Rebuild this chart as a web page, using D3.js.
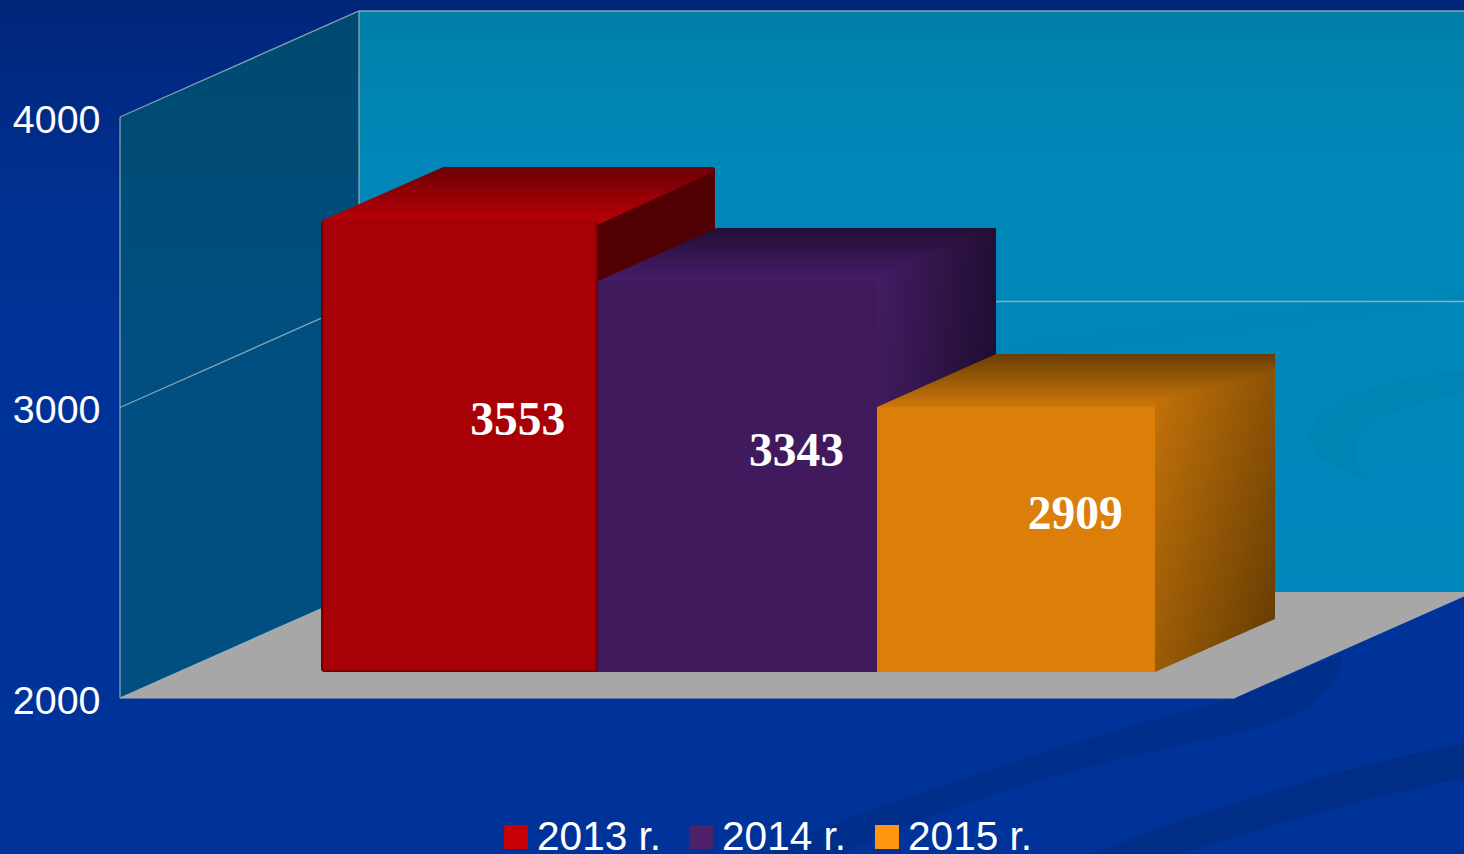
<!DOCTYPE html>
<html><head><meta charset="utf-8">
<script src="https://cdn.jsdelivr.net/npm/d3@7"></script>
<style>html,body{margin:0;padding:0;background:#003399;overflow:hidden}svg{display:block}</style>
</head><body><svg id="c" width="1464" height="854"></svg>
<script>
const categories = ["2013 r.", "2014 r.", "2015 r."];
const values = [3553, 3343, 2909];
const yTicks = [2000, 3000, 4000];
const frontColors = ["#a70006", "#411a5e", "#db7e0a"];
const topFrom = ["#700004", "#220f36", "#693e04"];
const topTo = ["#bb0008", "#451d66", "#cc770a"];
const sideFrom = ["#5a0004", "#441d64", "#c8750a"];
const sideTo = ["#500003", "#1f0d30", "#6a3f03"];
const sideTilt = [0, 0.3, 0.8];
const legendColors = ["#c80008", "#4e2068", "#ff9810"];

const W = 1464, H = 854, depthX = 239, depthY = 106;
const svg = d3.select("#c");
const defs = svg.append("defs");
const y = d3.scaleLinear().domain([2000, 4000]).range([698, 117]);
const x = d3.scaleBand().domain(categories).range([120, 1235]).paddingInner(0).paddingOuter(0.5);
const P = (px, py, z) => [px + depthX * z, py - depthY * z];
const line = d3.line();

function grad(id, x1, y1, x2, y2, stops) {
  const g = defs.append("linearGradient").attr("id", id)
    .attr("x1", x1).attr("y1", y1).attr("x2", x2).attr("y2", y2);
  stops.forEach(s => g.append("stop").attr("offset", s[0]).attr("stop-color", s[1]));
  return g;
}
grad("bg", 0, 0, 0, 1, [[0, "#00267a"], [0.25, "#003192"], [0.4, "#003399"], [1, "#003399"]]);
grad("back", 0, 0, 0, 1, [[0, "#0080a8"], [0.25, "#0087b8"], [1, "#0088bc"]]);
grad("sidewall", 0, 0, 0, 1, [[0, "#004a70"], [0.5, "#004f80"], [1, "#004f80"]]);
defs.append("filter").attr("id", "soft").attr("x", "-5%").attr("y", "-5%").attr("width", "110%").attr("height", "110%")
  .append("feGaussianBlur").attr("stdDeviation", 1.2);
svg.append("rect").attr("width", W).attr("height", H).attr("fill", "url(#bg)");

// background swooshes
svg.append("path").attr("fill", "#002f8b")
  .attr("d", "M1341,650 C1348,690 1300,720 1230,735 C1080,765 940,805 845,854 L760,854 C860,810 1050,745 1235,698 L1341,655Z");
svg.append("path").attr("fill", "#002d85")
  .attr("d", "M1464,743 C1330,770 1190,815 1090,854 L1180,854 C1270,825 1370,797 1464,778Z");

// back wall
const floorY = y(2000), wb = floorY - depthY, wallLeft = 120 + depthX, wallTop = y(4000) - depthY;
svg.append("rect").attr("x", wallLeft).attr("y", wallTop).attr("width", W - wallLeft).attr("height", wb - wallTop).attr("fill", "url(#back)");
svg.append("path").attr("fill", "#0084b4")
  .attr("d", "M1464,370 C1390,378 1320,400 1310,430 C1305,455 1335,470 1370,480 C1345,455 1350,430 1385,415 C1410,405 1440,398 1464,392Z");
svg.append("path").attr("fill", "#0085b6")
  .attr("d", "M1000,345 C1150,325 1320,310 1464,290 L1464,300 C1330,322 1180,340 1040,355Z");
// side wall
svg.append("path").attr("fill", "url(#sidewall)")
  .attr("d", line([[120, y(4000)], P(120, y(4000), 1), P(120, floorY, 1), [120, floorY]]) + "Z");
// floor
svg.append("path").attr("fill", "#a7a7a7")
  .attr("d", line([[120, floorY], [1235, floorY], P(1235, floorY, 1), P(120, floorY, 1)]) + "Z");
svg.append("path").attr("stroke", "#5a76a0").attr("stroke-width", 1).attr("d", line([[120, floorY + 0.5], [1235, floorY + 0.5]]));

// grid and wall frame
const gridStroke = "#a3bcc4";
const gridPaths = yTicks.slice(1).map(t => line([[120, y(t)], P(120, y(t), 1), [W, y(t) - depthY]]));
gridPaths.push(line([[120, floorY], [120, y(4000)]]));
gridPaths.push(line([P(120, floorY, 1), P(120, y(4000), 1)]));
gridPaths.push(line([P(120, floorY, 1), [120, floorY]]));
svg.selectAll("path.grid").data(gridPaths).join("path").attr("class", "grid")
  .attr("fill", "none").attr("stroke", gridStroke).attr("stroke-opacity", 0.8).attr("stroke-width", 1.3).attr("d", d => d);

// bars
const zF = 0.25, zB = 0.75;
const snap = p => [Math.round(p[0]), Math.round(p[1])];
categories.forEach((c, i) => {
  const x0 = x(c), x1 = x0 + x.bandwidth(), yT = y(values[i]), yB = floorY;
  const g = svg.append("g").attr("class", "bar");
  const f0 = snap(P(x0, yT, zF)), f1 = snap(P(x1, yB, zF)), b0 = snap(P(x0, yT, zB)), b1 = snap(P(x1, yB, zB)), bt = snap(P(x1, yT, zB));
  grad("top" + i, 0, 0, 0, 1, [[0, topFrom[i]], [1, topTo[i]]]);
  if (i === 0) {
    const ins = 3;
    g.append("path").attr("fill", sideTo[0]).attr("stroke", sideTo[0]).attr("stroke-width", 6).attr("stroke-linejoin", "round")
      .attr("d", line([[f1[0], f0[1] + ins], [bt[0] - 5, bt[1] + ins], [b1[0] - 5, b1[1] - ins], [f1[0], f1[1] - ins]]) + "Z");
    g.append("path").attr("fill", "url(#top0)").attr("stroke", "url(#top0)").attr("stroke-width", 6).attr("stroke-linejoin", "round")
      .attr("d", line([[f0[0] + 5, f0[1] + 3], [b0[0] + 5, b0[1] + 3], [bt[0] - 6, bt[1] + 3], [f1[0] - 4, f0[1] + 3]]) + "Z");
    const left = f0[0] + 2, w = f1[0] - left, h = f1[1] - f0[1];
    defs.append("clipPath").attr("id", "fc").append("rect").attr("x", left).attr("y", f0[1]).attr("width", w).attr("height", h).attr("rx", 4);
    g.append("rect").attr("x", left).attr("y", f0[1]).attr("width", w).attr("height", h).attr("rx", 4).attr("fill", frontColors[0]);
    g.append("g").attr("clip-path", "url(#fc)").append("path").attr("fill", "none").attr("stroke", "#5c0003").attr("stroke-width", 3)
      .attr("filter", "url(#soft)")
      .attr("d", line([[left, f0[1] + 2], [left, f1[1]], [f1[0], f1[1]], [f1[0], f0[1] + 2]]));
  } else {
    grad("side" + i, 0, 0, 1, sideTilt[i], [[0, sideFrom[i]], [1, sideTo[i]]]);
    const sil = [f0, b0, bt, b1, f1, [f1[0], f0[1]]];
    defs.append("clipPath").attr("id", "sil" + i).append("path").attr("d", line(sil) + "Z");
    const u = g.append("g").attr("clip-path", "url(#sil" + i + ")").style("isolation", "isolate");
    u.append("rect").attr("x", f0[0]).attr("y", bt[1]).attr("width", f1[0] - f0[0]).attr("height", f0[1] - bt[1]).attr("fill", topTo[i]);
    u.append("rect").attr("x", f1[0]).attr("y", bt[1]).attr("width", bt[0] - f1[0]).attr("height", f1[1] - bt[1]).attr("fill", "url(#side" + i + ")");
    u.append("rect").attr("x", f0[0]).attr("y", bt[1]).attr("width", bt[0] - f0[0]).attr("height", f0[1] - bt[1]).attr("fill", "url(#top" + i + ")")
      .style("mix-blend-mode", "darken");
    g.append("rect").attr("x", f0[0]).attr("y", f0[1]).attr("width", f1[0] - f0[0]).attr("height", f1[1] - f0[1]).attr("fill", frontColors[i]);
  }
});

// value labels
svg.selectAll("text.val").data(categories).join("text").attr("class", "val")
  .attr("x", c => P(x(c) + x.bandwidth() / 2, 0, 0.5)[0] - 0.5)
  .attr("y", (c, i) => P(0, (y(values[i]) + floorY) / 2, 0.5)[1])
  .attr("dy", "0.33em").attr("text-anchor", "middle")
  .attr("font-family", "'Liberation Serif'").attr("font-weight", "bold").attr("font-size", 47.5).attr("fill", "#fff")
  .text((c, i) => values[i]);

// y axis labels
const axis = d3.axisLeft(y).tickValues(yTicks).tickSize(0).tickPadding(0).tickFormat(d3.format("d"));
const ax = svg.append("g").attr("transform", "translate(100.5,2.5)").call(axis);
ax.select(".domain").remove();
ax.selectAll("text").attr("font-family", "'Liberation Sans'").attr("font-size", 39.4).attr("fill", "#fff");

// legend
const legendX = [504, 689, 875];
categories.forEach((c, i) => {
  svg.append("rect").attr("x", legendX[i]).attr("y", 825).attr("width", 24).attr("height", 24).attr("fill", legendColors[i]);
  svg.append("text").attr("x", legendX[i] + 33).attr("y", 850)
    .attr("font-family", "'Liberation Sans'").attr("font-size", 40.6).attr("fill", "#fff").text(c);
});
</script></body></html>
